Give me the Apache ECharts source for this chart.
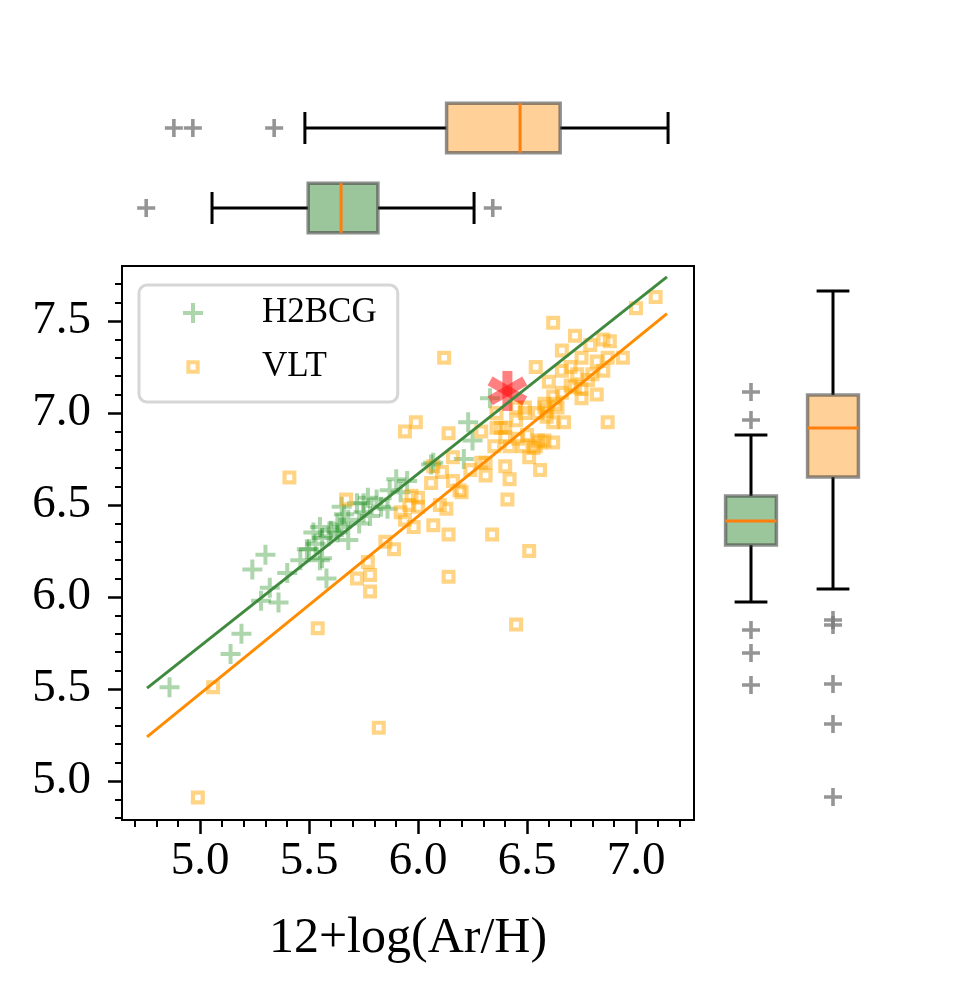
<!DOCTYPE html>
<html>
<head>
<meta charset="utf-8">
<title>12+log(Ar/H)</title>
<script src="https://cdn.jsdelivr.net/npm/echarts@6/dist/echarts.min.js"></script>
<style>
  html, body { margin: 0; padding: 0; background: #fff; }
  #chart { width: 965px; height: 990px; }
</style>
</head>
<body>
<div id="chart"></div>
<script>
// scatter samples: [12+log(Ar/H), y]
const h2bcgPoints = [
  [4.86, 5.51], [5.14, 5.69], [5.19, 5.80], [5.24, 6.15], [5.30, 6.23], [5.40, 6.13],
  [5.32, 6.05], [5.28, 5.98], [5.36, 5.97], [5.55, 6.38], [5.50, 6.26], [5.58, 6.10],
  [5.53, 6.29], [5.56, 6.32], [5.56, 6.21], [5.59, 6.33], [5.63, 6.35], [5.65, 6.38],
  [5.68, 6.42], [5.73, 6.40], [5.65, 6.49], [5.72, 6.51], [5.75, 6.51], [5.77, 6.54],
  [5.75, 6.46], [5.78, 6.44], [5.83, 6.49], [5.86, 6.48], [5.81, 6.53], [5.87, 6.58],
  [5.90, 6.64], [5.95, 6.63], [5.92, 6.57], [6.06, 6.72], [6.07, 6.73], [5.55, 6.20],
  [5.63, 6.40], [5.52, 6.35], [5.68, 6.31], [6.23, 6.95], [6.25, 6.85], [6.21, 6.75],
  [6.33, 7.08], [5.49, 6.26], [5.66, 6.45], [5.60, 6.36], [5.46, 6.20]
];
const vltPoints = [
  [4.99, 4.91], [5.06, 5.51], [5.41, 6.65], [5.54, 5.83], [5.82, 5.29], [5.77, 6.19],
  [5.78, 6.12], [5.72, 6.10], [5.78, 6.03], [5.85, 6.30], [5.89, 6.26], [5.67, 6.53],
  [5.94, 6.90], [5.99, 6.95], [6.14, 6.89], [6.16, 6.76], [6.07, 6.71], [6.11, 6.68],
  [6.06, 6.62], [5.97, 6.55], [6.00, 6.54], [5.96, 6.50], [6.00, 6.49], [5.92, 6.46],
  [5.94, 6.42], [5.98, 6.38], [6.07, 6.39], [6.10, 6.50], [6.13, 6.48], [6.14, 6.34],
  [6.19, 6.58], [6.14, 6.11], [6.34, 6.34], [6.51, 6.25], [6.45, 5.85], [6.12, 7.30],
  [6.54, 7.25], [6.60, 7.17], [6.66, 7.23], [6.58, 7.05], [6.62, 7.09], [6.66, 7.11],
  [6.67, 6.95], [6.62, 6.95], [6.49, 7.03], [6.45, 6.96], [6.36, 7.00], [6.38, 6.92],
  [6.29, 6.90], [6.35, 6.82], [6.40, 6.87], [6.46, 6.86], [6.50, 6.88], [6.55, 6.85],
  [6.62, 6.84], [6.48, 6.82], [6.53, 6.81], [6.51, 6.76], [6.56, 6.69], [6.40, 6.71],
  [6.42, 6.64], [6.31, 6.66], [6.31, 6.73], [6.24, 6.69], [6.20, 6.57], [6.16, 6.63],
  [6.41, 6.53], [6.45, 7.03], [6.49, 7.00], [6.40, 6.92], [6.42, 6.82], [6.54, 6.82],
  [6.56, 6.84], [6.59, 6.98], [6.58, 7.03], [6.55, 7.00], [6.64, 7.03], [6.29, 6.73],
  [6.36, 6.92], [7.09, 7.63], [7.00, 7.57], [6.62, 7.49], [6.72, 7.42], [6.66, 7.34],
  [6.79, 7.37], [6.85, 7.40], [6.88, 7.39], [6.75, 7.30], [6.70, 7.25], [6.82, 7.28],
  [6.87, 7.30], [6.94, 7.30], [6.85, 7.23], [6.80, 7.21], [6.78, 7.18], [6.82, 7.10],
  [6.75, 7.13], [6.75, 7.08], [6.72, 7.14], [6.63, 7.05], [6.59, 7.01], [6.87, 6.95],
  [6.58, 6.85], [6.70, 7.15], [6.73, 7.21]
];
const starPoint = [6.41, 7.12];

// fitted lines, two end points each
const fitX = [4.757, 7.142];
const h2bcgFit = [5.505, 7.74];
const vltFit = [5.24, 7.54];

// box statistics: [low whisker, q1, median, q3, high whisker]
const groups = ['H2BCG', 'VLT'];
const h2bcgBoxX = [5.055, 5.496, 5.647, 5.816, 6.257];
const vltBoxX = [5.481, 6.131, 6.468, 6.652, 7.147];
const h2bcgOutX = [4.753, 6.343];
const vltOutX = [4.880, 4.967, 5.340];
const h2bcgBoxY = [5.973, 6.283, 6.413, 6.549, 6.880];
const vltBoxY = [6.043, 6.652, 6.918, 7.098, 7.663];
const h2bcgOutY = [7.114, 6.962, 5.821, 5.696, 5.522];
const vltOutY = [5.875, 5.848, 5.527, 5.310, 4.913];

// tick labels
const xMajor = [5.0, 5.5, 6.0, 6.5, 7.0];
const xMinor = [4.7, 4.8, 4.9, 5.1, 5.2, 5.3, 5.4, 5.6, 5.7, 5.8, 5.9, 6.1, 6.2, 6.3, 6.4, 6.6, 6.7, 6.8, 6.9, 7.1, 7.2];
const yMajor = [5.0, 5.5, 6.0, 6.5, 7.0, 7.5];
const yMinor = [4.8, 4.9, 5.1, 5.2, 5.3, 5.4, 5.6, 5.7, 5.8, 5.9, 6.1, 6.2, 6.3, 6.4, 6.6, 6.7, 6.8, 6.9, 7.1, 7.2, 7.3, 7.4, 7.6, 7.7];

const X_MIN = 4.642, X_MAX = 7.266;
const Y_MIN = 4.788, Y_MAX = 7.799;
const FONT = 'Liberation Serif, Times New Roman, serif';

const plusPath = 'path://M0.4,0H0.6V0.4H1V0.6H0.6V1H0.4V0.6H0V0.4H0.4Z';
const ringPath = 'path://M0,0H1V1H0ZM0.3,0.3V0.7H0.7V0.3Z';
const ringLegend = 'path://M-0.25,-0.25h0.001M0,0H1V1H0ZM0.3,0.3V0.7H0.7V0.3ZM1.25,1.25h0.001';
const boxFill = ['#9bc59b', '#ffd199'];

function renderBox(horizontal) {
  return function (params, api) {
    const cat = api.value(0);
    const s = [api.value(1), api.value(2), api.value(3), api.value(4), api.value(5)];
    const band = horizontal ? api.size([0, 1])[1] : api.size([1, 0])[0];
    const half = band * 0.31;
    const capHalf = band * 0.2;
    const at = function (v, off) {
      const p = horizontal ? api.coord([v, cat]) : api.coord([cat, v]);
      return horizontal ? [p[0], p[1] + off] : [p[0] + off, p[1]];
    };
    const seg = function (a, b, color) {
      return {
        type: 'line',
        shape: { x1: a[0], y1: a[1], x2: b[0], y2: b[1] },
        style: { stroke: color, lineWidth: 3 }
      };
    };
    const c1 = at(s[1], -half), c2 = at(s[3], half);
    return {
      type: 'group',
      children: [
        seg(at(s[0], 0), at(s[1], 0), '#000'),
        seg(at(s[3], 0), at(s[4], 0), '#000'),
        seg(at(s[0], -capHalf), at(s[0], capHalf), '#000'),
        seg(at(s[4], -capHalf), at(s[4], capHalf), '#000'),
        {
          type: 'rect',
          shape: {
            x: Math.min(c1[0], c2[0]), y: Math.min(c1[1], c2[1]),
            width: Math.abs(c2[0] - c1[0]), height: Math.abs(c2[1] - c1[1])
          },
          style: { fill: boxFill[cat], stroke: 'rgba(70,70,70,0.6)', lineWidth: 3.5 }
        },
        seg(at(s[2], -half), at(s[2], half), '#ff7f0e')
      ]
    };
  };
}

const chart = echarts.init(document.getElementById('chart'));

const tickFont = { fontFamily: FONT, fontSize: 47, color: '#000' };

chart.setOption({
  animation: false,
  backgroundColor: '#fff',
  grid: [
    { left: 122, top: 266, width: 572, height: 554, show: true, borderColor: '#000', borderWidth: 2 },
    { left: 122, top: 88, width: 572, height: 160 },
    { left: 710, top: 266, width: 164, height: 554 }
  ],
  legend: {
    orient: 'vertical',
    left: 139,
    top: 285,
    padding: [8, 21, 15, 44],
    itemWidth: 20,
    itemHeight: 20,
    itemGap: 14,
    borderColor: '#d6d6d6',
    borderWidth: 3,
    borderRadius: 8,
    textStyle: { fontFamily: FONT, fontSize: 35, color: '#000', lineHeight: 40, padding: [0, 0, 0, 54] },
    data: [
      { name: 'H2BCG', icon: plusPath },
      { name: 'VLT', icon: ringLegend }
    ]
  },
  xAxis: [
    {
      type: 'value', gridIndex: 0, min: X_MIN, max: X_MAX, position: 'bottom',
      axisLine: { show: false },
      axisTick: { show: true, customValues: xMajor, length: 14, lineStyle: { color: '#000', width: 2.5 } },
      axisLabel: Object.assign({ customValues: xMajor, margin: 18, formatter: v => v.toFixed(1) }, tickFont),
      splitLine: { show: false },
      name: '12+log(Ar/H)', nameLocation: 'middle', nameGap: 94,
      nameTextStyle: { fontFamily: FONT, fontSize: 50, color: '#000' }
    },
    {
      type: 'value', gridIndex: 0, min: X_MIN, max: X_MAX, position: 'bottom',
      axisLine: { show: false },
      axisTick: { show: true, customValues: xMinor, length: 7, lineStyle: { color: '#000', width: 2 } },
      axisLabel: { show: false },
      splitLine: { show: false }
    },
    { type: 'value', gridIndex: 1, min: X_MIN, max: X_MAX, show: false },
    { type: 'category', gridIndex: 2, data: groups, show: false }
  ],
  yAxis: [
    {
      type: 'value', gridIndex: 0, min: Y_MIN, max: Y_MAX, position: 'left',
      axisLine: { show: false },
      axisTick: { show: true, customValues: yMajor, length: 14, lineStyle: { color: '#000', width: 2.5 } },
      axisLabel: Object.assign({ customValues: yMajor, margin: 31, formatter: v => v.toFixed(1) }, tickFont),
      splitLine: { show: false }
    },
    {
      type: 'value', gridIndex: 0, min: Y_MIN, max: Y_MAX, position: 'left',
      axisLine: { show: false },
      axisTick: { show: true, customValues: yMinor, length: 7, lineStyle: { color: '#000', width: 2 } },
      axisLabel: { show: false },
      splitLine: { show: false }
    },
    { type: 'category', gridIndex: 1, data: groups, show: false },
    { type: 'value', gridIndex: 2, min: Y_MIN, max: Y_MAX, show: false }
  ],
  series: [
    {
      name: 'H2BCG', type: 'scatter', xAxisIndex: 0, yAxisIndex: 0,
      symbol: plusPath, symbolSize: 20,
      itemStyle: { color: 'rgba(0,128,0,0.4)' },
      data: h2bcgPoints
    },
    {
      name: 'VLT', type: 'scatter', xAxisIndex: 0, yAxisIndex: 0,
      symbol: ringPath, symbolSize: 14,
      itemStyle: { color: 'rgba(255,165,0,0.6)' },
      data: vltPoints
    },
    {
      name: 'H2BCG fit', type: 'line', xAxisIndex: 0, yAxisIndex: 0,
      symbol: 'none', lineStyle: { color: '#3f8a3f', width: 3 },
      data: [[fitX[0], h2bcgFit[0]], [fitX[1], h2bcgFit[1]]]
    },
    {
      name: 'VLT fit', type: 'line', xAxisIndex: 0, yAxisIndex: 0,
      symbol: 'none', lineStyle: { color: '#ff8c00', width: 3 },
      data: [[fitX[0], vltFit[0]], [fitX[1], vltFit[1]]]
    },
    {
      name: 'target', type: 'scatter', xAxisIndex: 0, yAxisIndex: 0,
      symbol: 'rect', symbolSize: [10, 40],
      itemStyle: { color: 'rgba(255,20,20,0.68)' },
      data: [0, 60, -60].map(r => ({ value: starPoint, symbolRotate: r }))
    },
    {
      name: 'box x', type: 'custom', xAxisIndex: 2, yAxisIndex: 2,
      renderItem: renderBox(true),
      encode: { x: [1, 2, 3, 4, 5], y: 0 },
      data: [[0].concat(h2bcgBoxX), [1].concat(vltBoxX)]
    },
    {
      name: 'fliers x', type: 'scatter', xAxisIndex: 2, yAxisIndex: 2,
      symbol: plusPath, symbolSize: 18, itemStyle: { color: '#7a7a7a' },
      data: h2bcgOutX.map(v => [v, 0]).concat(vltOutX.map(v => [v, 1]))
    },
    {
      name: 'box y', type: 'custom', xAxisIndex: 3, yAxisIndex: 3,
      renderItem: renderBox(false),
      encode: { x: 0, y: [1, 2, 3, 4, 5] },
      data: [[0].concat(h2bcgBoxY), [1].concat(vltBoxY)]
    },
    {
      name: 'fliers y', type: 'scatter', xAxisIndex: 3, yAxisIndex: 3,
      symbol: plusPath, symbolSize: 18, itemStyle: { color: '#7a7a7a' },
      data: h2bcgOutY.map(v => [0, v]).concat(vltOutY.map(v => [1, v]))
    }
  ]
});
</script>
</body>
</html>
